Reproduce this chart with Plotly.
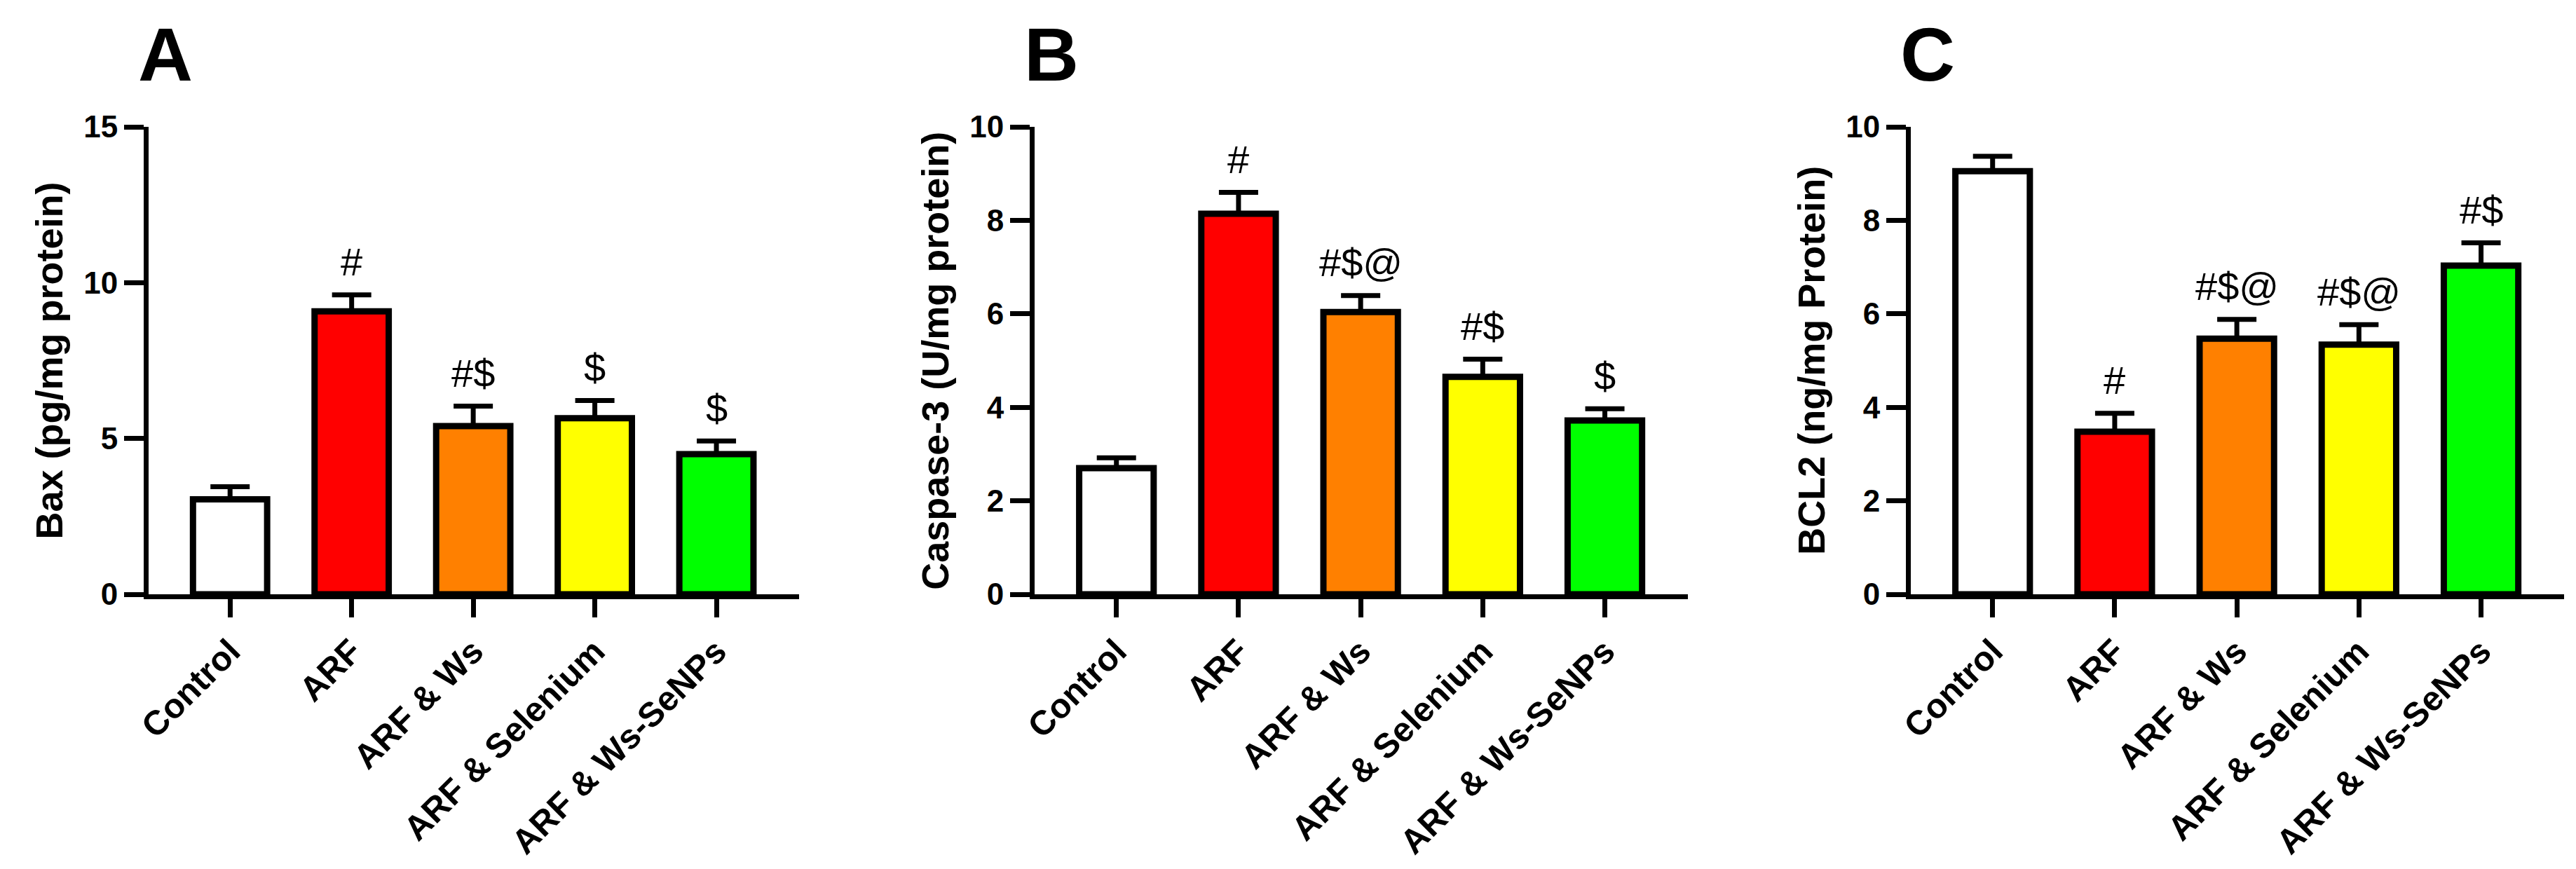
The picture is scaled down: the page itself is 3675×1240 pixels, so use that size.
import plotly.graph_objects as go

# groups and colours shared by the three panels
groups = ["Control", "ARF", "ARF & Ws", "ARF & Selenium", "ARF & Ws-SeNPs"]
bar_colors = ["#FFFFFF", "#FF0000", "#FF8000", "#FFFF00", "#00FF00"]

# A - Bax
bax_mean = [3.05, 9.08, 5.40, 5.65, 4.50]
bax_sem = [0.40, 0.53, 0.64, 0.57, 0.42]
bax_marks = ["", "#", "#$", "$", "$"]

# B - Caspase-3
casp_mean = [2.70, 8.14, 6.04, 4.65, 3.72]
casp_sem = [0.22, 0.46, 0.35, 0.38, 0.25]
casp_marks = ["", "#", "#$@", "#$", "$"]

# C - BCL2
bcl2_mean = [9.05, 3.48, 5.47, 5.34, 7.03]
bcl2_sem = [0.32, 0.39, 0.41, 0.43, 0.49]
bcl2_marks = ["", "#", "#$@", "#$@", "#$"]

panel_letters = ["A", "B", "C"]
y_titles = ["Bax (pg/mg protein)", "Caspase-3 (U/mg protein)", "BCL2 (ng/mg Protein)"]
y_max = [15, 10, 10]
y_step = [5, 2, 2]

FONT = "Arial, Liberation Sans, sans-serif"
W, H = 3675, 1240

panels = [
    (bax_mean, bax_sem, bax_marks),
    (casp_mean, casp_sem, casp_marks),
    (bcl2_mean, bcl2_sem, bcl2_marks),
]

# pixel layout of each plot area (left, right), shared top/bottom
x_px = [(204, 1132), (1468, 2400), (2718, 3650)]
y_top_px, y_bot_px = 173, 840

fig = go.Figure()
annotations = []

for i, (mean, sem, marks) in enumerate(panels):
    n = "" if i == 0 else str(i + 1)
    xa, ya = "x" + n, "y" + n

    fig.add_trace(go.Bar(
        x=groups, y=mean,
        width=0.61,
        marker=dict(color=bar_colors, line=dict(color="black", width=9)),
        error_y=dict(type="data", array=sem, arrayminus=[0] * len(sem), symmetric=False,
                     color="black", thickness=7, width=28),
        xaxis=xa, yaxis=ya, showlegend=False,
    ))

    left, right = x_px[i]
    fig.layout["xaxis" + n] = dict(
        domain=[left / W, right / W], anchor=ya,
        range=[-0.67, 4.68], type="category",
        showline=True, linecolor="black", linewidth=7,
        ticks="outside", ticklen=26, tickwidth=7, tickcolor="black",
        tickangle=-45, tickfont=dict(family=FONT, size=49, color="black", weight="bold"),
        showgrid=False, zeroline=False, automargin=False,
    )
    fig.layout["yaxis" + n] = dict(
        domain=[1 - y_bot_px / H, 1 - y_top_px / H], anchor=xa,
        range=[0, y_max[i]], tickmode="linear", tick0=0, dtick=y_step[i],
        showline=True, linecolor="black", linewidth=7,
        ticks="outside", ticklen=28, tickwidth=7, tickcolor="black",
        tickfont=dict(family=FONT, size=44, color="black", weight="bold"),
        showgrid=False, zeroline=False, automargin=False,
    )

    # significance marks above the error bars
    for g, m, s, txt in zip(groups, mean, sem, marks):
        if txt:
            annotations.append(dict(
                x=g, y=m + s, xref=xa, yref=ya, text=txt, showarrow=False,
                yanchor="middle", yshift=47,
                font=dict(family=FONT, size=56, color="black"),
            ))

    # y axis title
    annotations.append(dict(
        x=-0.152, y=0.5, xref=xa + " domain", yref=ya + " domain",
        text="<b>" + y_titles[i] + "</b>", textangle=-90, showarrow=False,
        xanchor="center", yanchor="middle",
        font=dict(family=FONT, size=54, color="black"),
    ))

    # panel letter
    annotations.append(dict(
        x=(left + 24) / W, y=1 - 70 / H, xref="paper", yref="paper",
        text="<b>" + panel_letters[i] + "</b>", showarrow=False,
        xanchor="center", yanchor="middle",
        font=dict(family=FONT, size=108, color="black"),
    ))

fig.update_layout(
    width=W, height=H,
    margin=dict(l=0, r=0, t=0, b=0),
    paper_bgcolor="white", plot_bgcolor="white",
    annotations=annotations,
)

fig.write_html("out.html")
